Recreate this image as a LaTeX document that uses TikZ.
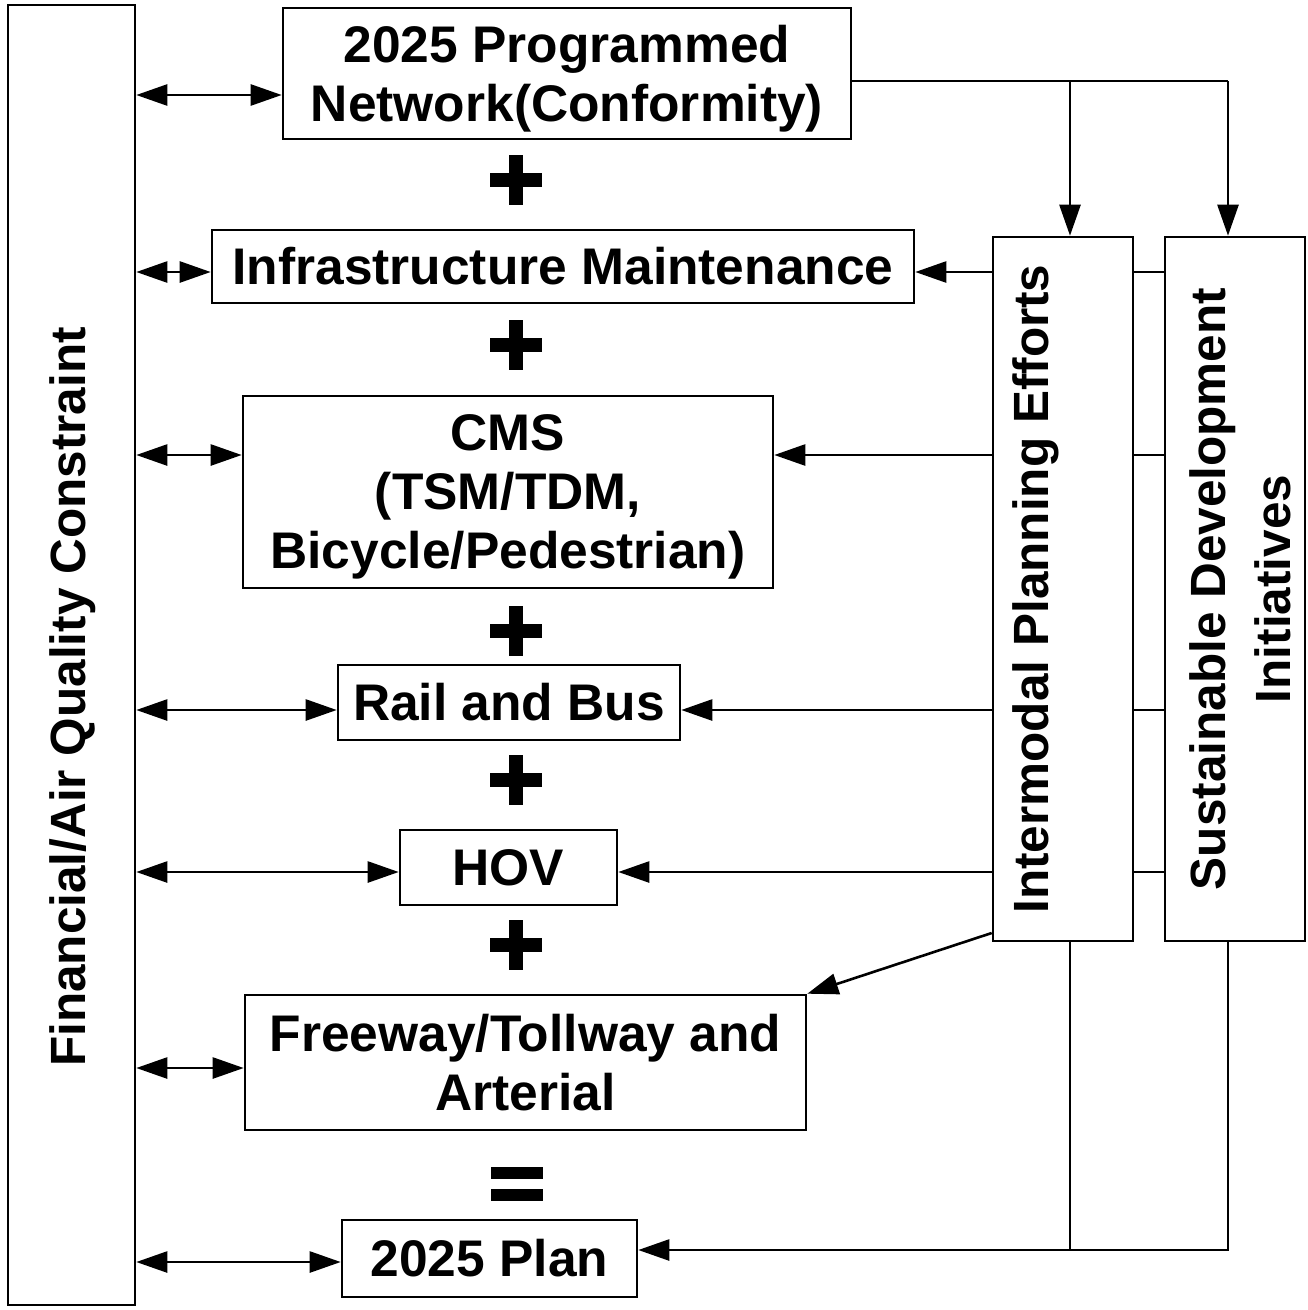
\documentclass[tikz,border=0pt]{standalone}
\usepackage{fontspec}
\setmainfont{Liberation Sans}
\usetikzlibrary{arrows.meta}
\newcommand\lbl{\fontsize{51.5}{59}\selectfont\bfseries}
\newcommand\rlbl{\fontsize{49.5}{59}\selectfont\bfseries}
\tikzset{
  box/.style={draw, line width=2.6pt, inner sep=0pt, align=center, font=\lbl},
  txt/.style={inner sep=0pt, align=center, font=\rlbl},
  conn/.style={line width=2.6pt},
  arr/.style={conn, -{Triangle[length=31pt,width=21pt]}},
  darr/.style={conn, {Triangle[length=31pt,width=21pt]}-{Triangle[length=31pt,width=21pt]}},
  plussym/.pic={\fill (-26,-7) rectangle (26,7); \fill (-7,-25) rectangle (7,25);},
  eqsym/.pic={\fill (-26,-17) rectangle (26,-5); \fill (-26,5) rectangle (26,17);}
}
\begin{document}
\begin{tikzpicture}[x=1pt,y=-1pt]
\useasboundingbox (0,0) rectangle (1308,1310);
% boxes
\node[box, minimum width=127pt, minimum height=1300pt] (L) at (71.5,655) {};
\node[txt, rotate=90] (Ltext) at (73,697) {Financial/Air Quality Constraint};
\node[box, text depth=0pt, minimum width=568pt, minimum height=131pt] (T) at (567,73.5) {2025 Programmed\\Network(Conformity)};
\node[box, minimum width=702pt, minimum height=73pt] (I) at (563,266.5) {Infrastructure Maintenance};
\node[box, text depth=0pt, minimum width=530pt, minimum height=192pt] (C) at (508,492) {CMS\\(TSM/TDM,\\Bicycle/Pedestrian)};
\node[box, minimum width=342pt, minimum height=75pt] (R) at (509,702.5) {Rail and Bus};
\node[box, minimum width=217pt, minimum height=75pt] (H) at (508.5,867.5) {HOV};
\node[box, minimum width=561pt, minimum height=135pt] (F) at (525.5,1062.5) {Freeway/Tollway and\\Arterial};
\node[box, minimum width=295pt, minimum height=77pt] (P) at (489.5,1258.5) {2025 Plan};
\node[box, minimum width=140pt, minimum height=704pt] (IP) at (1063,589) {};
\node[txt, rotate=90] (IPtext) at (1036,589) {Intermodal Planning Efforts};
\node[box, minimum width=140pt, minimum height=704pt] (SD) at (1235,589) {};
\node[txt, rotate=90, font=\fontsize{49.5}{65}\selectfont\bfseries] (SDtext) at (1240,589) {Sustainable Development\\Initiatives};
% plus / equals
\pic at (516,180) {plussym};
\pic at (516,345) {plussym};
\pic at (516,631) {plussym};
\pic at (516,780) {plussym};
\pic at (516,945) {plussym};
\pic at (517,1184) {eqsym};
% left double arrows
\draw[darr] (L.east |- 0,95) -- (T.west |- 0,95);
\draw[darr] (L.east |- 0,272) -- (I.west |- 0,272);
\draw[darr] (L.east |- 0,455) -- (C.west |- 0,455);
\draw[darr] (L.east |- 0,710) -- (R.west |- 0,710);
\draw[darr] (L.east |- 0,872) -- (H.west |- 0,872);
\draw[darr] (L.east |- 0,1068) -- (F.west |- 0,1068);
\draw[darr] (L.east |- 0,1262) -- (P.west |- 0,1262);
% top distribution
\coordinate (tm) at (1070,81);
\coordinate (tr) at (1228,81);
\draw[conn] (T.east |- tm) -- (tr);
\draw[arr] (tm) -- (tm |- IP.north);
\draw[arr] (tr) -- (tr |- SD.north);
% right side arrows
\foreach \yy/\tgt in {272/I, 455/C, 710/R, 872/H}{
  \draw[conn] (SD.west |- 0,\yy) -- (IP.east |- 0,\yy);
  \draw[arr] (IP.west |- 0,\yy) -- (\tgt.east |- 0,\yy);
}
\draw[arr] (IP.west |- 0,933) -- (F.north east);
% bottom
\coordinate (b1) at (1070,1250);
\coordinate (b2) at (1228,1250);
\draw[conn] (b1 |- IP.south) -- (b1);
\draw[arr] (b2 |- SD.south) -- (b2) -- (P.east |- b2);
\end{tikzpicture}
\end{document}
